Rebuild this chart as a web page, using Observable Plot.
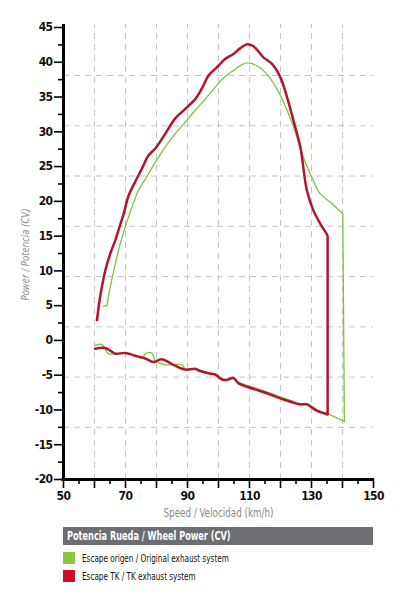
<!DOCTYPE html>
<html><head><meta charset="utf-8">
<script src="https://cdn.jsdelivr.net/npm/d3@7"></script>
<script src="https://cdn.jsdelivr.net/npm/@observablehq/plot@0.6"></script>
<style>
body{margin:0;background:#fff;}
#wrap{position:relative;width:402px;height:603px;font-family:"DejaVu Sans Condensed","DejaVu Sans",sans-serif;font-stretch:condensed;}
#wrap svg text{letter-spacing:-0.6px;}
.bar{position:absolute;left:63px;top:527px;width:310px;height:18px;background:#6d6e71;}
.bar span{position:absolute;left:4px;top:0;color:#fff;font-weight:bold;font-size:11.5px;line-height:18px;white-space:nowrap;transform:scaleX(0.79);transform-origin:0 50%;}
.sw{position:absolute;left:63px;width:12px;height:12px;}
.lt{position:absolute;left:82px;font-size:10.5px;line-height:12px;color:#111;white-space:nowrap;transform:scaleX(0.77);transform-origin:0 50%;}
</style></head>
<body><div id="wrap"></div>
<script>
// Red series (Escape TK) path: upper curve, drop, lower curve back (corner points repeated)
const redSpeed = [60.8,61.8,63.5,65.1,66.7,67.7,69.4,71.0,73.1,75.3,77.4,79.6,82.8,86.0,89.3,92.5,94.6,96.8,100.0,102.2,104.8,107.0,109.2,111.3,114.5,117.2,119.9,122.1,124.2,126.4,128.5,130.6,132.8,134.9,135.2,135.2,
  135.2,135.2,131.7,128.5,126.4,123.7,120.4,115.6,110.2,106.5,104.8,102.7,101.0,99.0,97.5,94.1,92.5,89.3,85.0,81.7,79.0,76.4,73.1,69.9,66.7,63.5,60.2];
const redPower = [2.9,6.2,10.1,12.5,14.4,15.8,18.2,20.8,22.8,24.7,26.6,27.6,29.7,31.9,33.3,34.7,36.2,38.1,39.5,40.5,41.2,42.0,42.6,42.3,40.7,39.8,37.9,35.0,31.6,27.8,21.6,18.7,16.8,15.3,15.0,15.0,
  -10.65,-10.65,-10.1,-9.2,-9.2,-8.9,-8.4,-7.6,-6.8,-6.2,-5.4,-5.7,-5.6,-4.9,-4.8,-4.4,-4.1,-4.2,-3.4,-2.7,-3.1,-2.6,-2.2,-1.8,-1.9,-1.1,-1.2];
// Green series (Escape origen)
const greenSpeed = [62.9,64.0,64.0,65.1,66.7,68.3,69.9,72.1,74.2,76.4,79.6,82.8,86.0,89.3,92.5,95.7,98.9,101.5,104.8,107.0,109.2,112.4,115.6,118.8,122.1,124.2,127.4,130.6,132.8,136.0,140.1,140.1,
  140.6,140.6,135.0,132.8,128.5,126.4,123.7,120.4,115.6,110.2,106.5,104.8,102.7,101.0,99.0,97.3,94.1,92.5,89.3,88.2,85.0,82.8,79.6,78.5,76.4,75.5,73.1,69.9,66.7,64.5,62.4,60.2];
const greenPower = [4.9,5.0,5.0,7.7,11.0,13.9,16.3,19.2,21.6,23.2,25.6,27.8,29.7,31.4,33.1,34.7,36.4,37.7,38.8,39.5,39.9,39.5,38.3,36.2,33.1,30.7,26.3,23.0,21.1,19.9,18.2,18.2,
  -11.7,-11.7,-10.5,-10.2,-9.1,-9.1,-8.7,-8.2,-7.4,-6.6,-6.0,-5.3,-5.6,-5.5,-4.8,-4.7,-4.3,-4.0,-4.1,-3.5,-3.5,-3.5,-2.9,-1.8,-1.9,-2.6,-2.2,-1.8,-1.9,-1.9,-0.6,-0.7];

const yMajor = [-20,-15,-10,-5,0,5,10,15,20,25,30,35,40,45];
const yMinor = [-17.5,-12.5,-7.5,-2.5,2.5,7.5,12.5,17.5,22.5,27.5,32.5,37.5,42.5];
const xMajor = [50,60,70,80,90,100,110,120,130,140,150];
const xMinor = [55,65,75,85,95,105,115,125,135,145];
const xLabeled = [50,70,90,110,130,150];
const xGrid = [60,70,80,90,100,110,120,130,140];
const yGrid = [-12.5,-5.28,1.95,9.18,16.41,23.64,30.87,38.1];

const seriesNames = ["Escape origen / Original exhaust system", "Escape TK  / TK exhaust  system"];
const seriesColors = ["#7dc242", "#b3152d"];
const swatchColors = ["#8cc63f", "#c8102e"];
const title = "Potencia Rueda / Wheel Power (CV)";
const xLabel = "Speed / Velocidad (km/h)";
const yLabel = "Power / Potencia (CV)";

const red = redSpeed.map((s,i)=>({speed:s, power:redPower[i]}));
const green = greenSpeed.map((s,i)=>({speed:s, power:greenPower[i]}));

const font = '"DejaVu Sans Condensed","DejaVu Sans",sans-serif';

const chart = Plot.plot({
  width: 402, height: 522,
  marginTop: 27, marginLeft: 63, marginRight: 29, marginBottom: 43,
  style: {fontFamily: font, background: "white", overflow: "visible"},
  x: {domain: [50,150]},
  y: {domain: [-20,45]},
  marks: [
    Plot.ruleY(yGrid, {x1: 50, x2: 150, stroke: "#c4c4c4", strokeDasharray: "6,5", strokeWidth: 1}),
    Plot.ruleX(xGrid, {y1: -20, y2: 45.43, stroke: "#c4c4c4", strokeDasharray: "6,5", strokeWidth: 1}),
    Plot.line(green, {x: "speed", y: "power", stroke: seriesColors[0], strokeWidth: 1.3, curve: "catmull-rom", strokeLinejoin: "round"}),
    Plot.line(red, {x: "speed", y: "power", stroke: seriesColors[1], strokeWidth: 2.5, curve: "catmull-rom", strokeLinejoin: "round"}),
    Plot.axisY({ticks: yMajor, tickSize: 9, tickPadding: 2, tickFormat: d => String(d), fontSize: 12, fontWeight: "bold", stroke: "#000", strokeWidth: 1.6, fill: "#111", label: null}),
    Plot.axisY({ticks: yMinor, tickSize: 5, tickFormat: () => "", stroke: "#000", strokeWidth: 1.6, label: null}),
    Plot.axisX({ticks: xMajor, tickSize: 9, tickPadding: 3, tickFormat: d => xLabeled.includes(d) ? String(d) : "", fontSize: 12, fontWeight: "bold", stroke: "#000", strokeWidth: 1.6, fill: "#111", label: null}),
    Plot.axisX({ticks: xMinor, tickSize: 5, tickFormat: () => "", stroke: "#000", strokeWidth: 1.6, label: null}),
    Plot.ruleX([50], {y1: -20.2, y2: 45.43, stroke: "#000", strokeWidth: 3}),
    Plot.ruleY([-20], {x1: 49.5, x2: 150.3, stroke: "#000", strokeWidth: 3}),
    Plot.text([xLabel], {text: d => d, frameAnchor: "bottom", textAnchor: "middle", lineAnchor: "middle", dy: 34, fontSize: 11.5, fill: "#888", className: "xlab"}),
    Plot.text([yLabel], {text: d => d, frameAnchor: "left", textAnchor: "middle", lineAnchor: "middle", dx: -38, dy: 1, rotate: -90, fontSize: 10.5, fontStyle: "italic", fill: "#8a8a8a", className: "ylab"})
  ]
});
// compress the axis titles to the narrow width of the original typeface
d3.select(chart).selectAll(".xlab text").attr("textLength", 110).attr("lengthAdjust", "spacingAndGlyphs").style("letter-spacing", "0px");
d3.select(chart).selectAll(".ylab text").attr("textLength", 92).attr("lengthAdjust", "spacingAndGlyphs").style("letter-spacing", "0px");
const wrap = document.getElementById("wrap");
wrap.appendChild(chart);
chart.style.position = "absolute"; chart.style.left = "0"; chart.style.top = "0";
const bar = document.createElement("div"); bar.className = "bar";
const bs = document.createElement("span"); bs.textContent = title; bar.appendChild(bs); wrap.appendChild(bar);
seriesNames.forEach((n,i) => {
  const sw = document.createElement("div"); sw.className = "sw"; sw.style.top = (552 + i*18) + "px"; sw.style.background = swatchColors[i]; wrap.appendChild(sw);
  const t = document.createElement("div"); t.className = "lt"; t.style.top = (552 + i*18) + "px"; t.textContent = n; wrap.appendChild(t);
});
</script></body></html>
